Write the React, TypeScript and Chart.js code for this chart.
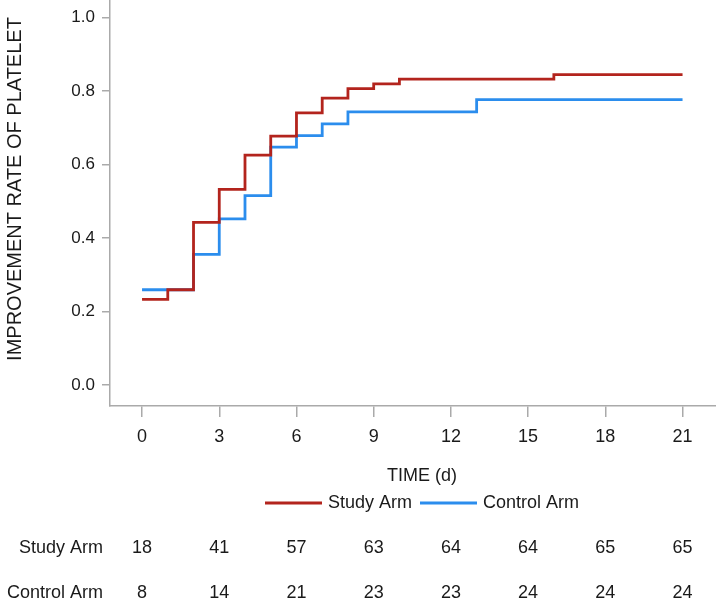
import React, { useEffect, useRef } from "react";
import { Chart, registerables } from "chart.js";

Chart.register(...registerables);

// Kaplan–Meier style step data (time in days, improvement rate)
const studyTimes = [0, 1, 2, 3, 4, 5, 6, 7, 8, 9, 10, 16, 21];
const studyRates = [0.233, 0.259, 0.442, 0.532, 0.625, 0.677, 0.74, 0.78, 0.806, 0.819, 0.832, 0.844, 0.844];
const controlTimes = [0, 2, 3, 4, 5, 6, 7, 8, 13, 21];
const controlRates = [0.259, 0.355, 0.452, 0.515, 0.647, 0.678, 0.71, 0.743, 0.776, 0.776];

const xTicks = [0, 3, 6, 9, 12, 15, 18, 21];
const yTicks = [0, 0.2, 0.4, 0.6, 0.8, 1.0];
const seriesNames = ["Study Arm", "Control Arm"];
const studyAtRisk = [18, 41, 57, 63, 64, 64, 65, 65];
const controlAtRisk = [8, 14, 21, 23, 23, 24, 24, 24];

const yTitle = "IMPROVEMENT RATE OF PLATELET";
const xTitle = "TIME (d)";

const RED = "#b3241d";
const BLUE = "#2b8ded";
const FONT = "'Liberation Sans', Arial, sans-serif";
const TEXT = "#1a1a1a";
const AXIS = "#aaaaaa";

export default function App() {
  const ref = useRef<HTMLCanvasElement | null>(null);

  useEffect(() => {
    if (!ref.current) return;
    const overlay = {
      id: "overlay",
      afterDraw(chart: any) {
        const ctx = chart.ctx;
        const xs = chart.scales.x;
        ctx.save();
        ctx.fillStyle = TEXT;
        // y title
        ctx.save();
        ctx.font = `20px ${FONT}`;
        ctx.translate(15, 189);
        ctx.rotate(-Math.PI / 2);
        ctx.textAlign = "center";
        ctx.textBaseline = "middle";
        ctx.fillText(yTitle, 0, 0);
        ctx.restore();
        // x title
        ctx.font = `18px ${FONT}`;
        ctx.textAlign = "center";
        ctx.textBaseline = "middle";
        ctx.fillText(xTitle, 422, 476);
        // legend
        const legendY = 503;
        const items = [
          { x: 265, color: RED, label: seriesNames[0] },
          { x: 420, color: BLUE, label: seriesNames[1] },
        ];
        items.forEach((it) => {
          ctx.strokeStyle = it.color;
          ctx.lineWidth = 3;
          ctx.beginPath();
          ctx.moveTo(it.x, legendY);
          ctx.lineTo(it.x + 57, legendY);
          ctx.stroke();
          ctx.textAlign = "left";
          ctx.fillText(it.label, it.x + 63, legendY);
        });
        // risk table
        const rows = [
          { y: 548, label: seriesNames[0], vals: studyAtRisk },
          { y: 593, label: seriesNames[1], vals: controlAtRisk },
        ];
        rows.forEach((r) => {
          ctx.textAlign = "right";
          ctx.fillText(r.label, 103, r.y);
          ctx.textAlign = "center";
          r.vals.forEach((v, i) => {
            ctx.fillText(String(v), xs.getPixelForValue(xTicks[i]), r.y);
          });
        });
        ctx.restore();
      },
    };

    const chart = new Chart(ref.current, {
      type: "line",
      data: {
        datasets: [
          {
            label: seriesNames[0],
            data: studyTimes.map((t, i) => ({ x: t, y: studyRates[i] })),
            borderColor: RED,
            borderWidth: 2.8,
            pointRadius: 0,
            stepped: true,
            fill: false,
          },
          {
            label: seriesNames[1],
            data: controlTimes.map((t, i) => ({ x: t, y: controlRates[i] })),
            borderColor: BLUE,
            borderWidth: 2.8,
            pointRadius: 0,
            stepped: true,
            fill: false,
          },
        ],
      },
      options: {
        animation: false,
        responsive: false,
        maintainAspectRatio: false,
        devicePixelRatio: 1,
        layout: { padding: 0 },
        plugins: { legend: { display: false }, tooltip: { enabled: false } },
        scales: {
          x: {
            type: "linear",
            min: -1.245,
            max: 22.3,
            afterBuildTicks: (s: any) => {
              s.ticks = xTicks.map((v) => ({ value: v }));
            },
            afterFit: (s: any) => {
              s.height = 205;
              s.paddingLeft = 0;
              s.paddingRight = 0;
            },
            grid: { drawOnChartArea: false, drawTicks: true, tickLength: 11, color: AXIS, lineWidth: 1.5 },
            border: { color: AXIS, width: 1.5 },
            ticks: {
              font: { size: 18, family: FONT },
              color: TEXT,
              padding: 9,
              maxRotation: 0,
              autoSkip: false,
              callback: (v: any) => String(v),
            },
          },
          y: {
            type: "linear",
            min: -0.0571,
            max: 1.047,
            afterBuildTicks: (s: any) => {
              s.ticks = yTicks.map((v) => ({ value: v }));
            },
            afterFit: (s: any) => {
              s.width = 110;
              s.paddingTop = 0;
              s.paddingBottom = 0;
            },
            grid: { drawOnChartArea: false, drawTicks: true, tickLength: 8, color: AXIS, lineWidth: 1.5 },
            border: { color: AXIS, width: 1.5 },
            ticks: {
              font: { size: 17, family: FONT },
              color: TEXT,
              padding: 7,
              autoSkip: false,
              callback: (v: any) => Number(v).toFixed(1),
            },
          },
        },
      },
      plugins: [overlay],
    });
    return () => chart.destroy();
  }, []);

  return (
    <div style={{ position: "absolute", left: 0, top: 0, width: 716, height: 611, background: "#fff" }}>
      <canvas ref={ref} width={716} height={611} style={{ display: "block" }} />
    </div>
  );
}
